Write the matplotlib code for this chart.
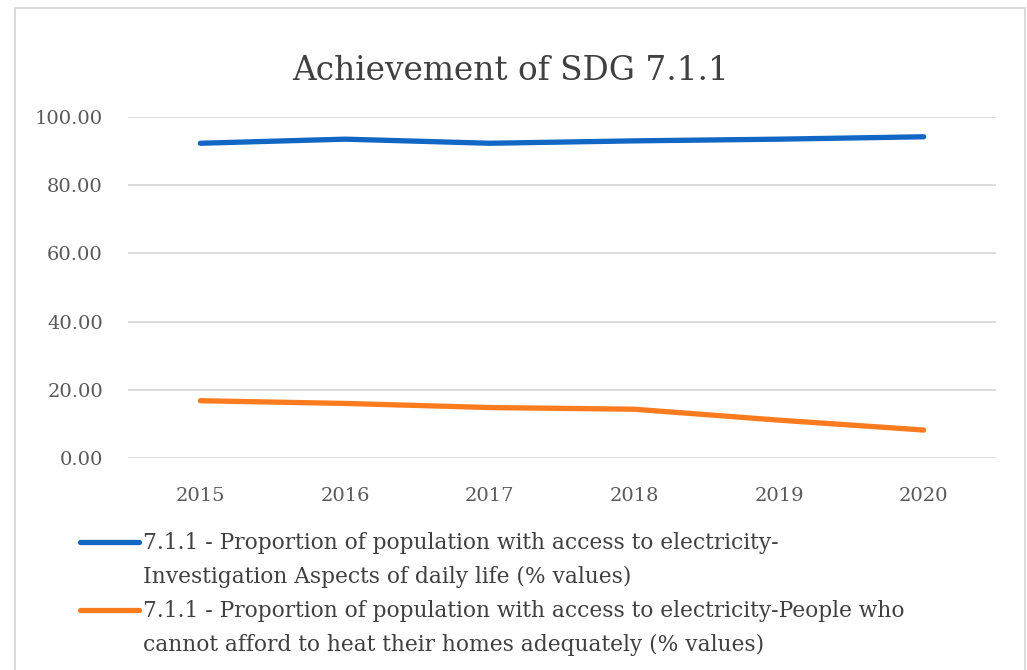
import matplotlib
matplotlib.use("Agg")
import matplotlib.pyplot as plt
from matplotlib.lines import Line2D
from matplotlib.patches import Rectangle

# Data
years = ["2015", "2016", "2017", "2018", "2019", "2020"]
access_daily_life = [92.3, 93.5, 92.3, 93.0, 93.5, 94.2]
cannot_afford_heat = [16.8, 16.0, 14.8, 14.3, 11.1, 8.2]
series_labels = [
    "7.1.1 - Proportion of population with access to electricity-\nInvestigation Aspects of daily life (% values)",
    "7.1.1 - Proportion of population with access to electricity-People who\ncannot afford to heat their homes adequately (% values)",
]
title = "Achievement of SDG 7.1.1"
y_ticks = [0, 20, 40, 60, 80, 100]

W, H = 1027, 670
BLUE = "#1266c4"
ORANGE = "#fd7b1f"
TEXT = "#595959"
FONT = "DejaVu Serif"

fig = plt.figure(figsize=(W / 100, H / 100), dpi=100)
fig.patch.set_facecolor("white")

# Chart frame
fig.add_artist(Rectangle((15 / W, -0.05), (1025 - 15) / W, 1.05 - 8 / H,
                         transform=fig.transFigure, fill=False,
                         edgecolor="#d4d4d4", linewidth=1.2))

ax = fig.add_axes([128 / W, 1 - 458 / H, (996 - 128) / W, (458 - 117) / H])
x = list(range(len(years)))
ax.plot(x, access_daily_life, color=BLUE, linewidth=3.8,
        solid_capstyle="round", solid_joinstyle="round", zorder=3)
ax.plot(x, cannot_afford_heat, color=ORANGE, linewidth=3.8,
        solid_capstyle="round", solid_joinstyle="round", zorder=3)

ax.set_xlim(-0.5, len(years) - 0.5)
ax.set_ylim(0, 100)
ax.set_yticks(y_ticks)
ax.set_yticklabels([f"{v:.2f}" for v in y_ticks])
ax.set_xticks(x)
ax.set_xticklabels(years)
ax.grid(axis="y", color="#d9d9d9", linewidth=1.3)
ax.set_axisbelow(True)
for s in ax.spines.values():
    s.set_visible(False)
ax.tick_params(length=0, labelsize=14, colors=TEXT)
ax.tick_params(axis="y", pad=18)
ax.tick_params(axis="x", pad=21)
for lab in ax.get_xticklabels() + ax.get_yticklabels():
    lab.set_fontfamily(FONT)

fig.text(510 / W, 1 - 80 / H, title, ha="center", va="baseline",
         fontsize=23.6, color="#404040", fontfamily=FONT)

# Legend
legend_rows = [(542, BLUE, 549, series_labels[0]), (610, ORANGE, 617, series_labels[1])]
for ly, col, base, label in legend_rows:
    fig.add_artist(Line2D([80 / W, 139 / W], [1 - ly / H, 1 - ly / H],
                          transform=fig.transFigure, color=col, linewidth=3.8,
                          solid_capstyle="round"))
    first, second = label.split("\n")
    fig.text(143 / W, 1 - base / H, first, ha="left", va="baseline",
             fontsize=15.7, color="#404040", fontfamily=FONT)
    fig.text(143 / W, 1 - (base + 34) / H, second, ha="left", va="baseline",
             fontsize=15.7, color="#404040", fontfamily=FONT)

fig.savefig("out.png", dpi=100, facecolor="white")
